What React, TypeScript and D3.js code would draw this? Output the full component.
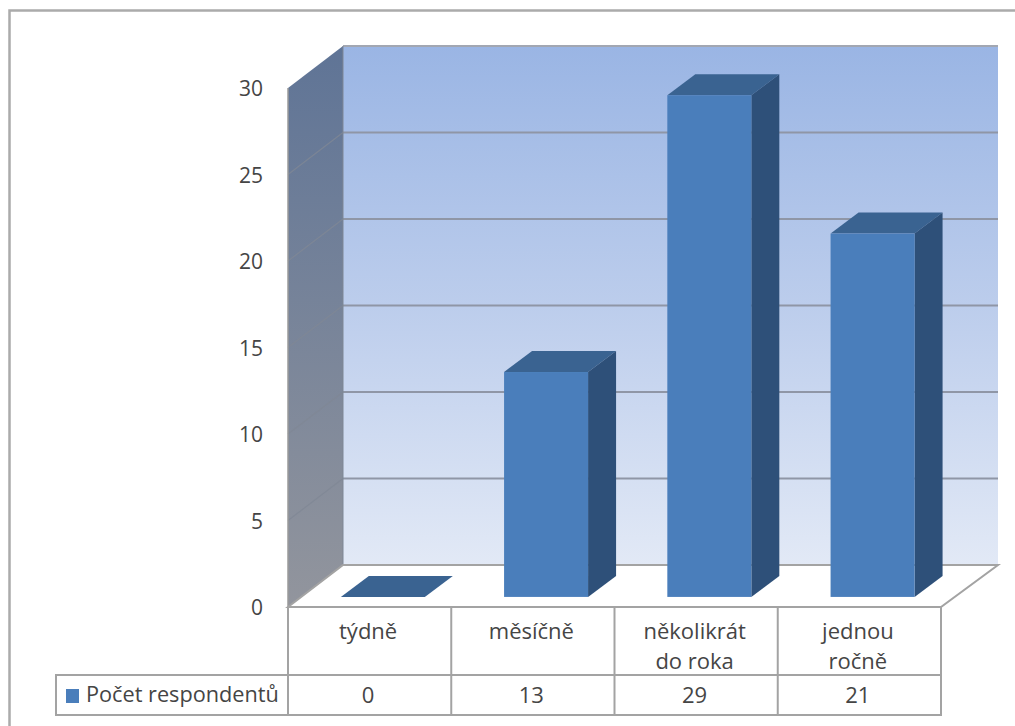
import * as d3 from "d3";

// Survey counts shown as a 3D column chart with a data table below it.
const categories = ["týdně", "měsíčně", "několikrát do roka", "jednou ročně"];
const categoryLines = [["týdně"], ["měsíčně"], ["několikrát", "do roka"], ["jednou", "ročně"]];
const values = [0, 13, 29, 21];
const seriesName = "Počet respondentů";
const yTicks = [0, 5, 10, 15, 20, 25, 30];

const W = 1015;
const H = 726;
const plotLeft = 288;
const plotRight = 941;
const floorFront = 607;
const wallHeight = 519;
const depthX = 55;
const depthY = 42;
const barFrontFraction = 0.24;
const barDepthX = 28;
const barDepthY = 21;
const tableTop = 607;
const rowTop = 675;
const tableBottom = 715;
const legendLeft = 56;

const x = d3.scaleBand<string>().domain(categories).range([plotLeft, plotRight]).paddingInner(0).paddingOuter(0);
const h = d3.scaleLinear().domain([0, 30]).range([0, wallHeight]);

const poly = (pts: [number, number][]) => d3.line()(pts) + "Z";
const FONT = "'Open Sans', sans-serif";
const TEXT = "#454545";
const LINE = "#a3a3a3";
const GRID = "#8f96a6";

export default function App() {
  const backLeft = plotLeft + depthX;
  const backRight = plotRight + depthX + 2;
  const backFloor = floorFront - depthY;
  const barWidth = 84;
  const barBase = floorFront - depthY * barFrontFraction;
  const barShift = depthX * barFrontFraction;

  return (
    <svg width={W} height={H} style={{ position: "absolute", left: 0, top: 0, background: "#fff" }} fontFamily={FONT}>
      <defs>
        <linearGradient id="backWall" x1="0" y1="0" x2="0" y2="1">
          <stop offset="0" stopColor="#9ab5e4" />
          <stop offset="0.5" stopColor="#bccdec" />
          <stop offset="1" stopColor="#e2e9f6" />
        </linearGradient>
        <linearGradient id="sideWall" x1="0" y1="0" x2="0" y2="1">
          <stop offset="0" stopColor="#5f7496" />
          <stop offset="1" stopColor="#92959d" />
        </linearGradient>
      </defs>

      {/* outer chart frame, running off the right and bottom edges */}
      <path d={`M9.5 ${H}V10.5H${W}`} fill="none" stroke="#ababab" strokeWidth={2.5} />

      {/* walls */}
      <path
        d={poly([
          [backLeft, backFloor - wallHeight],
          [backRight, backFloor - wallHeight],
          [backRight, backFloor],
          [backLeft, backFloor],
        ])}
        fill="url(#backWall)"
      />
      <path
        d={poly([
          [plotLeft, floorFront - wallHeight],
          [backLeft, backFloor - wallHeight],
          [backLeft, backFloor],
          [plotLeft, floorFront],
        ])}
        fill="url(#sideWall)"
      />

      {/* gridlines on the side and back walls */}
      {yTicks.map((t) => (
        <g key={t} fill="none">
          <line x1={plotLeft} y1={floorFront - h(t)} x2={backLeft} y2={backFloor - h(t)} stroke="#7f8795" strokeWidth={1.2} opacity={t === 0 || t === 30 ? 0 : 0.8} />
          <line x1={backLeft} y1={backFloor - h(t)} x2={backRight} y2={backFloor - h(t)} stroke={t === 30 ? "#a2a7b2" : GRID} strokeWidth={2} />
        </g>
      ))}
      <line x1={backLeft} y1={backFloor - wallHeight} x2={backLeft} y2={backFloor} stroke="#7f8795" strokeWidth={1} />
      <line x1={plotLeft} y1={floorFront - wallHeight} x2={plotLeft} y2={floorFront} stroke="#9a9a9a" strokeWidth={1.5} />

      {/* floor */}
      <path
        d={poly([
          [plotLeft, floorFront],
          [backLeft, backFloor],
          [backRight, backFloor],
          [plotRight, floorFront],
        ])}
        fill="#fff"
        stroke={LINE}
        strokeWidth={2}
      />

      {/* columns */}
      {categories.map((c, i) => {
        const cx = x(c)! + x.bandwidth() / 2 + barShift;
        const l = cx - barWidth / 2;
        const r = cx + barWidth / 2;
        const top = barBase - h(values[i]);
        return (
          <g key={c}>
            <path
              d={poly([
                [l, top],
                [l + barDepthX, top - barDepthY],
                [r + barDepthX, top - barDepthY],
                [r, top],
              ])}
              fill="#3a6391"
            />
            <path
              d={poly([
                [r, top],
                [r + barDepthX, top - barDepthY],
                [r + barDepthX, barBase - barDepthY],
                [r, barBase],
              ])}
              fill="#2e5079"
            />
            <rect x={l} y={top} width={barWidth} height={h(values[i])} fill="#4a7ebb" />
          </g>
        );
      })}

      {/* value axis labels */}
      {yTicks.map((t) => (
        <text key={t} x={263} y={floorFront - h(t) + 8} textAnchor="end" fontSize={21} fill={TEXT}>
          {t}
        </text>
      ))}

      {/* data table */}
      <g stroke={LINE} strokeWidth={2} fill="none">
        <line x1={plotLeft} y1={tableTop} x2={plotRight} y2={tableTop} />
        <path d={`M${legendLeft} ${rowTop}H${plotRight}V${tableBottom}H${legendLeft}Z`} />
        <line x1={plotRight} y1={tableTop} x2={plotRight} y2={rowTop} />
        <line x1={plotLeft} y1={tableTop} x2={plotLeft} y2={tableBottom} />
        {categories.slice(1).map((c) => (
          <line key={c} x1={x(c)!} y1={tableTop} x2={x(c)!} y2={tableBottom} />
        ))}
      </g>
      {categories.map((c, i) => {
        const cx = x(c)! + x.bandwidth() / 2 - 1.5;
        return (
          <g key={c} textAnchor="middle" fontSize={22} fill={TEXT}>
            {categoryLines[i].map((line, j) => (
              <text key={line} x={cx} y={639 + j * 30}>
                {line}
              </text>
            ))}
            <text x={cx} y={703}>
              {values[i]}
            </text>
          </g>
        );
      })}

      {/* series key inside the table */}
      <rect x={66} y={689} width={13} height={14} fill="#4a7ebb" />
      <text x={86} y={702} fontSize={21.7} fill={TEXT}>
        {seriesName}
      </text>
    </svg>
  );
}
